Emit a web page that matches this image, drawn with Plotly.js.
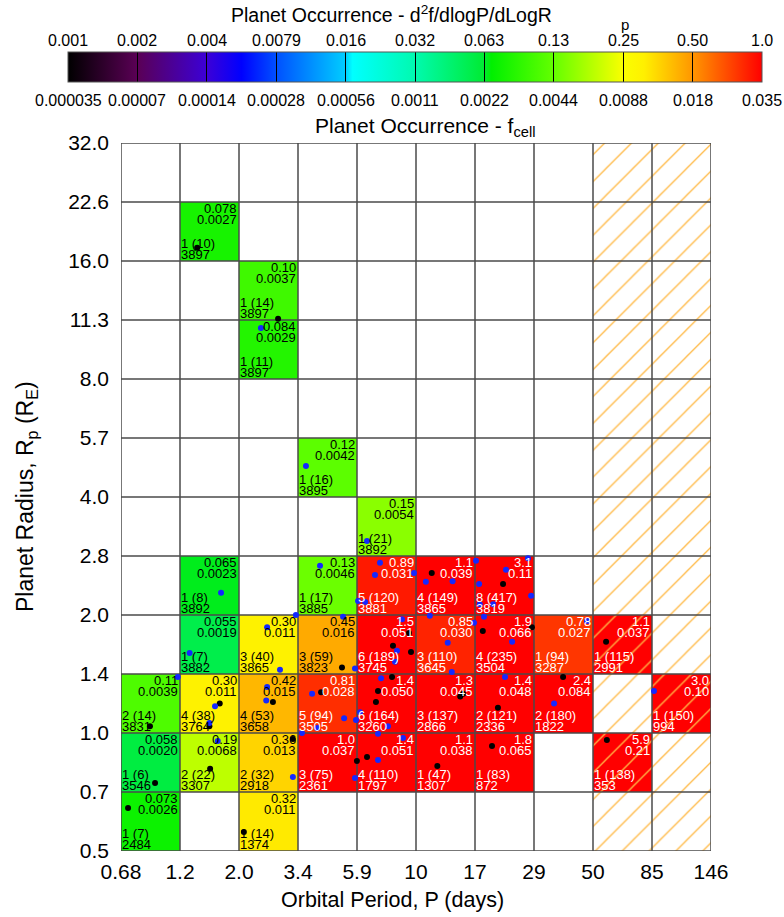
<!DOCTYPE html>
<html><head><meta charset="utf-8">
<script src="https://cdn.plot.ly/plotly-3.0.1.min.js"></script>
<style>html,body{margin:0;padding:0;background:#fff}#chart{width:784px;height:917px}</style>
</head><body><div id="chart"></div>
<script>
// ---------- axis bins / tick labels ----------
const periodTickLabels = ['0.68','1.2','2.0','3.4','5.9','10','17','29','50','85','146'];
const radiusTickLabels = ['0.5','0.7','1.0','1.4','2.0','2.8','4.0','5.7','8.0','11.3','16.0','22.6','32.0'];
const pScaleLabels = ['0.001','0.002','0.004','0.0079','0.016','0.032','0.063','0.13','0.25','0.50','1.0'];
const fScaleLabels = ['0.000035','0.00007','0.00014','0.00028','0.00056','0.0011','0.0022','0.0044','0.0088','0.018','0.035'];

// ---------- cells ----------
const cellPeriodBin = [1,2,2,3,4,1,3,4,5,6,1,2,3,4,5,6,7,8,0,1,2,3,4,5,6,7,9,0,1,2,3,4,5,6,8,0,2];
const cellRadiusBin = [10,9,8,6,5,4,4,4,4,4,3,3,3,3,3,3,3,3,2,2,2,2,2,2,2,2,2,1,1,1,1,1,1,1,1,0,0];
const cellOccurrence = [0.078,0.10,0.084,0.12,0.15,0.065,0.13,0.89,1.1,3.1,0.055,0.30,0.45,1.5,0.85,1.9,0.78,1.1,0.11,0.30,0.42,0.81,1.4,1.3,1.4,2.4,3.0,0.058,0.19,0.36,1.0,1.4,1.1,1.8,5.9,0.073,0.32];
const cellFcell = [0.0027,0.0037,0.0029,0.0042,0.0054,0.0023,0.0046,0.031,0.039,0.11,0.0019,0.011,0.016,0.051,0.030,0.066,0.027,0.037,0.0039,0.011,0.015,0.028,0.050,0.045,0.048,0.084,0.10,0.0020,0.0068,0.013,0.037,0.051,0.038,0.065,0.21,0.0026,0.011];
const cellPlanets = [1,1,1,1,1,1,1,5,4,8,1,3,3,6,3,4,1,1,2,4,4,5,6,3,2,2,1,1,2,2,3,4,1,1,1,1,1];
const cellPlanetsParen = [10,14,11,16,21,8,17,120,149,417,7,40,59,189,110,235,94,115,14,38,53,94,164,137,121,180,150,6,22,32,75,110,47,83,138,7,14];
const cellStars = [3897,3897,3897,3895,3892,3892,3885,3881,3865,3819,3882,3865,3823,3745,3645,3504,3287,2991,3831,3764,3658,3505,3260,2866,2336,1822,994,3546,3307,2918,2361,1797,1307,872,353,2484,1374];

// ---------- planets ----------
const bluePeriod = [2.43,3.66,6.38,4.16,7.18,6.86,9.78,5.88,6.27,10.9,13.9,17.2,27.6,22.6,17.7,28.4,20.1,17.8,5.13,3.34,8.77,11.3,16.9,18.5,8.38,8.23,13.3,23.9,5.72,13.8,22.4,7.25,47.2,1.14,1.60,1.52,2.57,2.55,3.53,1.64,3.25,3.87,5.18,5.77,5.99,4.05,7.72,7.05,8.85,7.05,5.72,35.0,86.9,1.69,1.27,2.57,2.89];
const blueRadius = [10.8,4.80,3.09,2.67,2.72,2.53,2.56,2.17,2.16,2.43,2.44,2.75,2.79,2.61,2.40,2.24,2.13,2.13,1.98,2.00,1.95,1.99,1.91,1.98,1.62,1.52,1.70,1.71,1.46,1.43,1.39,1.38,1.93,1.39,1.17,1.06,1.31,1.21,1.00,0.954,0.772,1.26,1.09,1.08,1.13,1.03,1.04,0.995,0.971,0.853,0.768,1.19,1.28,2.28,1.60,1.86,1.45];
const blackPeriod = [1.36,2.84,11.5,22.0,9.35,18.3,28.6,8.08,9.52,5.08,8.01,56.2,38.0,1.67,1.52,0.885,2.71,3.25,1.53,0.927,0.725,2.08,4.20,7.05,6.92,14.9,15.3,21.0,6.38,5.82,12.1,19.9,56.6];
const blackRadius = [17.3,11.4,2.56,2.40,1.80,1.82,1.86,1.67,1.61,1.47,1.39,1.71,1.39,1.19,1.04,1.04,1.20,0.965,0.810,0.746,0.644,0.559,1.27,1.28,1.20,1.24,1.26,1.16,0.869,0.848,0.824,0.927,0.960];

// ---------- geometry (log10 space, equal-width bins) ----------
const L = Math.log10;
const pLo = parseFloat(periodTickLabels[0]), pHi = parseFloat(periodTickLabels[periodTickLabels.length-1]);
const rLo = parseFloat(radiusTickLabels[0]), rHi = parseFloat(radiusTickLabels[radiusTickLabels.length-1]);
const nP = periodTickLabels.length-1, nR = radiusTickLabels.length-1;
const pEdges = periodTickLabels.map((_,i)=> L(pLo) + (L(pHi)-L(pLo))*i/nP);
const rEdges = radiusTickLabels.map((_,i)=> L(rLo) + (L(rHi)-L(rLo))*i/nR);

const FONT = '"Liberation Sans", Arial, Helvetica, sans-serif';

// heatmap matrix
const z = [];
for (let j=0;j<nR;j++){ z.push(new Array(nP).fill(null)); }
cellOccurrence.forEach((v,i)=>{ z[cellRadiusBin[i]][cellPeriodBin[i]] = L(v); });

const colorscale = [
 [0,'rgb(0,0,0)'],[0.1,'rgb(90,0,85)'],[0.2,'rgb(60,0,215)'],[0.25,'rgb(0,0,255)'],
 [0.3,'rgb(0,80,255)'],[0.4,'rgb(0,205,255)'],[0.41,'rgb(0,255,255)'],[0.5,'rgb(0,250,175)'],
 [0.6,'rgb(0,235,50)'],[0.61,'rgb(0,240,0)'],[0.7,'rgb(100,255,0)'],[0.8,'rgb(250,255,0)'],
 [0.83,'rgb(255,240,0)'],[0.9,'rgb(255,150,0)'],[1,'rgb(255,0,0)']
];
const zmin = L(parseFloat(pScaleLabels[0])), zmax = L(parseFloat(pScaleLabels[pScaleLabels.length-1]));
const cbTickVals = pScaleLabels.map((_,k)=> zmin + (zmax-zmin)*k/(pScaleLabels.length-1));

// plot area in px
const W=784,H=917, ml=121, mr=73, mt=143, mb=66;
const pw = W-ml-mr, ph = H-mt-mb;
const px2paperX = x => (x-ml)/pw;
const px2paperY = y => (H-mb-y)/ph;
const cbLeft=68, cbRight=762, cbTop=52, cbBottom=82;

const heat = {
  type:'heatmap', x:pEdges, y:rEdges, z:z, zmin:zmin, zmax:zmax, colorscale:colorscale,
  hoverinfo:'skip', zsmooth:false,
  colorbar:{
    orientation:'h', lenmode:'fraction', len:(cbRight-cbLeft)/pw,
    x:px2paperX((cbLeft+cbRight)/2), xanchor:'center',
    y:px2paperY(cbTop), yanchor:'top', yref:'paper',
    thickness:cbBottom-cbTop, thicknessmode:'pixels', xpad:0, ypad:0,
    outlinewidth:1, outlinecolor:'#555',
    tickmode:'array', tickvals:cbTickVals, ticks:'inside', ticklen:cbBottom-cbTop, tickwidth:1, tickcolor:'#000',
    showticklabels:false
  }
};

// hatch region: two last period bins, full radius range
const hatch = {
  type:'scatter', mode:'lines', hoverinfo:'skip', showlegend:false,
  x:[pEdges[nP-2],pEdges[nP],pEdges[nP],pEdges[nP-2],pEdges[nP-2]],
  y:[rEdges[0],rEdges[0],rEdges[nR],rEdges[nR],rEdges[0]],
  fill:'toself', fillcolor:'rgba(0,0,0,0)', line:{width:0},
  fillpattern:{shape:'/', fgcolor:'rgb(255,185,70)', bgcolor:'rgba(0,0,0,0)', size:19, solidity:0.07}
};

// grid lines
const gx=[], gy=[];
pEdges.forEach(v=>{ gx.push(v,v,null); gy.push(rEdges[0],rEdges[nR],null); });
rEdges.forEach(v=>{ gx.push(pEdges[0],pEdges[nP],null); gy.push(v,v,null); });
const grid = {type:'scatter', mode:'lines', x:gx, y:gy, line:{color:'#4a4a4a', width:1.5}, hoverinfo:'skip', showlegend:false, connectgaps:false};

const blue = {type:'scatter', mode:'markers', x:bluePeriod.map(L), y:blueRadius.map(L), marker:{color:'rgb(20,40,255)', size:6}, hoverinfo:'skip', showlegend:false};
const black = {type:'scatter', mode:'markers', x:blackPeriod.map(L), y:blackRadius.map(L), marker:{color:'#000', size:6}, hoverinfo:'skip', showlegend:false};

const fmt = v => v.toPrecision(2);
const ann = [];
const cellFont = 13;
cellOccurrence.forEach((p,i)=>{
  const c = cellPeriodBin[i], r = cellRadiusBin[i];
  const col = p >= 0.5 ? '#fff' : '#000';
  const f = {family:FONT, size:cellFont, color:col};
  ann.push({x:pEdges[c+1], y:rEdges[r+1], xref:'x', yref:'y', xanchor:'right', yanchor:'middle', xshift:-1, yshift:-6, text:fmt(p), showarrow:false, font:f, borderpad:0});
  ann.push({x:pEdges[c+1], y:rEdges[r+1], xref:'x', yref:'y', xanchor:'right', yanchor:'middle', xshift:-1, yshift:-17, text:fmt(cellFcell[i]), showarrow:false, font:f, borderpad:0});
  ann.push({x:pEdges[c], y:rEdges[r], xref:'x', yref:'y', xanchor:'left', yanchor:'middle', xshift:0, yshift:18, text:cellPlanets[i]+' ('+cellPlanetsParen[i]+')', showarrow:false, font:f, borderpad:0});
  ann.push({x:pEdges[c], y:rEdges[r], xref:'x', yref:'y', xanchor:'left', yanchor:'middle', xshift:0, yshift:7, text:String(cellStars[i]), showarrow:false, font:f, borderpad:0});
});
// colorbar labels
const cbStep = (cbRight-cbLeft)/(pScaleLabels.length-1);
pScaleLabels.forEach((t,k)=>{
  ann.push({xref:'paper', yref:'paper', x:px2paperX(cbLeft+k*cbStep), y:px2paperY(41), xanchor:'center', yanchor:'middle', text:t, showarrow:false, font:{family:FONT,size:16,color:'#000'}});
});
fScaleLabels.forEach((t,k)=>{
  ann.push({xref:'paper', yref:'paper', x:px2paperX(cbLeft+k*cbStep), y:px2paperY(100), xanchor:'center', yanchor:'middle', text:t, showarrow:false, font:{family:FONT,size:16,color:'#000'}});
});
ann.push({xref:'paper', yref:'paper', x:px2paperX(391), y:px2paperY(14), xanchor:'center', yanchor:'middle', text:'Planet Occurrence - d<sup>2</sup>f/dlogP/dLogR', showarrow:false, font:{family:FONT,size:19.5,color:'#000'}});
ann.push({xref:'paper', yref:'paper', x:px2paperX(cbLeft+8*cbStep+2), y:px2paperY(24), xanchor:'center', yanchor:'middle', text:'p', showarrow:false, font:{family:FONT,size:15,color:'#000'}});
ann.push({xref:'paper', yref:'paper', x:px2paperX(425), y:px2paperY(127), xanchor:'center', yanchor:'middle', text:'Planet Occurrence - f<sub>cell</sub>', showarrow:false, font:{family:FONT,size:21,color:'#000'}});
ann.push({xref:'paper', yref:'paper', x:px2paperX(392), y:px2paperY(900), xanchor:'center', yanchor:'middle', text:'Orbital Period, P (days)', showarrow:false, font:{family:FONT,size:21.5,color:'#000'}});
ann.push({xref:'paper', yref:'paper', x:px2paperX(26), y:0.5, xanchor:'center', yanchor:'middle', textangle:-90, text:'Planet Radius, R<sub>p</sub> (R<sub>E</sub>)', showarrow:false, font:{family:FONT,size:23,color:'#000'}});

const layout = {
  width:W, height:H, margin:{l:ml,r:mr,t:mt,b:mb,pad:0},
  paper_bgcolor:'#fff', plot_bgcolor:'#fff', showlegend:false,
  font:{family:FONT, color:'#000'},
  xaxis:{range:[pEdges[0],pEdges[nP]], tickmode:'array', tickvals:pEdges, ticktext:periodTickLabels,
         showgrid:false, zeroline:false, ticks:'', ticklabelstandoff:6, tickfont:{family:FONT,size:21}, fixedrange:true},
  yaxis:{range:[rEdges[0],rEdges[nR]], tickmode:'array', tickvals:rEdges, ticktext:radiusTickLabels,
         showgrid:false, zeroline:false, ticks:'', ticklabelstandoff:11, tickfont:{family:FONT,size:21}, fixedrange:true},
  annotations:ann
};
Plotly.newPlot('chart',[heat,hatch,grid,black,blue],layout,{displayModeBar:false,staticPlot:true});
</script></body></html>
